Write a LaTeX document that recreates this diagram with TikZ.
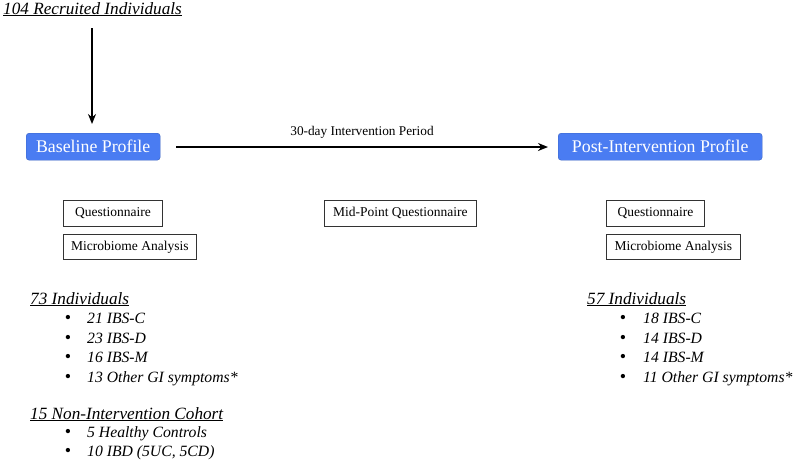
\documentclass[tikz,border=0pt]{standalone}
\usepackage{fontspec}
\setmainfont{Liberation Serif}
\usetikzlibrary{arrows.meta}
\definecolor{profblue}{HTML}{4A7CF2}
\begin{document}
\begin{tikzpicture}[x=1pt,y=-1pt,
  profile/.style={fill=profblue,draw=profblue!80!black,rounded corners=3pt,text=white,font=\fontsize{17.8}{20}\selectfont,inner sep=0pt,anchor=north west},
  smallbox/.style={draw=black!80,line width=0.8pt,font=\fontsize{13.5}{15}\selectfont,inner sep=0pt,anchor=north west},
  heading/.style={anchor=base west,inner sep=0pt,font=\fontsize{17.2}{19}\selectfont\itshape},
  item/.style={anchor=base west,inner sep=0pt,font=\fontsize{15.7}{18}\selectfont\itshape},
  bul/.style={anchor=base,inner sep=0pt,font=\fontsize{18}{18}\selectfont},
  arr/.style={-{Stealth[length=10pt,width=8pt]},line width=2.2pt}]
\useasboundingbox (0,0) rectangle (794,459);
\node[heading] (rec) at (3,14) {\underline{104 Recruited Individuals}};
\node[profile,minimum width=134pt,minimum height=27pt] (base) at (26,133) {Baseline Profile};
\node[profile,minimum width=204pt,minimum height=27pt] (post) at (558,133) {Post-Intervention Profile};
\coordinate (top) at (92,28);
\draw[arr] (top) -- (92,124);
\coordinate (hs) at (176,147);
\coordinate (he) at (548,147);
\draw[arr] (hs) -- node[above=4pt,font=\fontsize{13.3}{15}\selectfont,text=black] (lab) {30-day Intervention Period} (he);
\node[smallbox,minimum width=99pt,minimum height=26pt] (q1) at (63,200) {Questionnaire};
\node[smallbox,minimum width=133pt,minimum height=25pt] (m1) at (63,234) {Microbiome Analysis};
\node[smallbox,minimum width=152pt,minimum height=26pt] (mid) at (324,200) {Mid-Point Questionnaire};
\node[smallbox,minimum width=98pt,minimum height=26pt] (q2) at (606,200) {Questionnaire};
\node[smallbox,minimum width=134pt,minimum height=25pt] (m2) at (606,234) {Microbiome Analysis};
% left lists
\node[heading] (h73) at (30,304) {\underline{73 Individuals}};
\foreach \t [count=\i] in {21 IBS-C,23 IBS-D,16 IBS-M,13 Other GI symptoms*}{
  \node[bul] (lb\i) at (68,304+19.5*\i) {•};
  \node[item] (li\i) at (87,304+19.5*\i) {\t};
}
\node[heading] (h15) at (30,419) {\underline{15 Non-Intervention Cohort}};
\node[bul] (nb1) at (68,437.5) {•};
\node[bul] (nb2) at (68,456) {•};
\node[item] (ni1) at (87,437.5) {5 Healthy Controls};
\node[item] (ni2) at (87,456) {10 IBD (5UC, 5CD)};
% right list
\node[heading] (h57) at (587,304) {\underline{57 Individuals}};
\foreach \t [count=\i] in {18 IBS-C,14 IBS-D,14 IBS-M,11 Other GI symptoms*}{
  \node[bul] (rb\i) at (623,304+19.5*\i) {•};
  \node[item] (ri\i) at (643,304+19.5*\i) {\t};
}
\end{tikzpicture}
\end{document}
